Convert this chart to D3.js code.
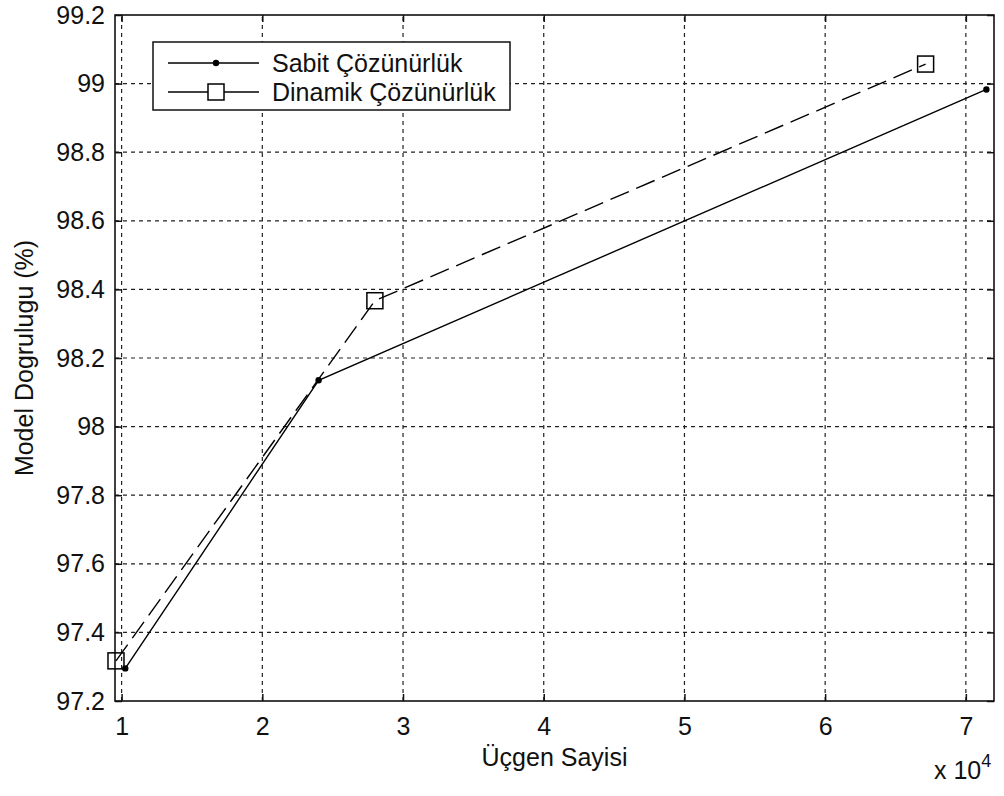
<!DOCTYPE html>
<html>
<head>
<meta charset="utf-8">
<script src="https://cdn.jsdelivr.net/npm/d3@7"></script>
<style>
  body { margin: 0; background: #fff; }
  text { font-family: "Liberation Sans", Arial, sans-serif; fill: #111; }
</style>
</head>
<body>
<div id="chart"></div>
<script>
// values (x in units of 10^4 triangles)
var sabitX = [1.026, 2.40, 7.146];
var sabitY = [97.295, 98.135, 98.983];
var dinamikX = [0.96, 2.80, 6.714];
var dinamikY = [97.317, 98.367, 99.057];
var xTicks = [1, 2, 3, 4, 5, 6, 7];
var yTicks = [97.2, 97.4, 97.6, 97.8, 98, 98.2, 98.4, 98.6, 98.8, 99, 99.2];
var seriesNames = ["Sabit Çözünürlük", "Dinamik Çözünürlük"];

var W = 1004, H = 796;
var margin = {top: 15, right: 10, bottom: 95, left: 115};

var svg = d3.select("#chart").append("svg")
    .attr("width", W)
    .attr("height", H);

var x = d3.scaleLinear().domain([0.953, 7.2]).range([margin.left, W - margin.right]);
var y = d3.scaleLinear().domain([97.2, 99.2]).range([H - margin.bottom, margin.top]);

var x0 = x.range()[0], x1 = x.range()[1];
var y0 = y.range()[0], y1 = y.range()[1];

// grid
var grid = svg.append("g").attr("class", "grid")
    .style("stroke", "#222").style("stroke-width", 1.2).style("stroke-dasharray", "4,4");
grid.selectAll("line.gx").data(xTicks).enter().append("line")
    .attr("x1", function(d) { return x(d); }).attr("x2", function(d) { return x(d); })
    .attr("y1", y0).attr("y2", y1);
grid.selectAll("line.gy").data(yTicks.slice(1, -1)).enter().append("line")
    .attr("y1", function(d) { return y(d); }).attr("y2", function(d) { return y(d); })
    .attr("x1", x0).attr("x2", x1);

// axes with inward ticks
var fmt = function(d) { return d3.format("")(+d.toFixed(1)); };
var xAxis = svg.append("g").attr("transform", "translate(0," + y0 + ")")
    .call(d3.axisBottom(x).tickValues(xTicks).tickSizeInner(-7).tickSizeOuter(0).tickPadding(16).tickFormat(d3.format("d")));
var yAxis = svg.append("g").attr("transform", "translate(" + x0 + ",0)")
    .call(d3.axisLeft(y).tickValues(yTicks).tickSizeInner(-7).tickSizeOuter(0).tickPadding(10).tickFormat(fmt));
svg.append("g").attr("transform", "translate(0," + y1 + ")")
    .call(d3.axisTop(x).tickValues(xTicks).tickSizeInner(-7).tickSizeOuter(0).tickFormat(""));
svg.append("g").attr("transform", "translate(" + x1 + ",0)")
    .call(d3.axisRight(y).tickValues(yTicks).tickSizeInner(-7).tickSizeOuter(0).tickFormat(""));
svg.selectAll(".domain").remove();
svg.selectAll(".tick line").attr("stroke", "#111").attr("stroke-width", 1.5);
svg.selectAll(".tick text").style("font-size", "25px").attr("fill", "#111")
    .style("font-family", "'Liberation Sans', Arial, sans-serif");

// box
svg.append("rect")
    .attr("x", x0).attr("y", y1).attr("width", x1 - x0).attr("height", y0 - y1)
    .attr("fill", "none").attr("stroke", "#111").attr("stroke-width", 1.6);

// series
var line = d3.line().x(function(d) { return x(d[0]); }).y(function(d) { return y(d[1]); });
var sabit = d3.zip(sabitX, sabitY);
var dinamik = d3.zip(dinamikX, dinamikY);

svg.append("path").datum(sabit).attr("d", line)
    .attr("fill", "none").attr("stroke", "#000").attr("stroke-width", 1.4);
svg.selectAll("circle.sabit").data(sabit).enter().append("circle")
    .attr("cx", function(d) { return x(d[0]); }).attr("cy", function(d) { return y(d[1]); })
    .attr("r", 3.2).attr("fill", "#000");

svg.append("path").datum(dinamik).attr("d", line)
    .attr("fill", "none").attr("stroke", "#000").attr("stroke-width", 1.4)
    .attr("stroke-dasharray", "20,8");
svg.selectAll("rect.dinamik").data(dinamik).enter().append("rect")
    .attr("x", function(d) { return x(d[0]) - 8; }).attr("y", function(d) { return y(d[1]) - 8; })
    .attr("width", 16).attr("height", 16)
    .attr("fill", "none").attr("stroke", "#000").attr("stroke-width", 1.5);

// legend
var lg = svg.append("g");
lg.append("rect").attr("x", 153).attr("y", 42).attr("width", 357).attr("height", 68)
    .attr("fill", "#fff").attr("stroke", "#111").attr("stroke-width", 1.5);
var rows = [63, 92];
lg.selectAll("line.l").data(rows).enter().append("line")
    .attr("x1", 168).attr("x2", 259)
    .attr("y1", function(d) { return d; }).attr("y2", function(d) { return d; })
    .attr("stroke", "#000").attr("stroke-width", 1.4);
lg.append("circle").attr("cx", 216).attr("cy", rows[0]).attr("r", 3.2).attr("fill", "#000");
lg.append("rect").attr("x", 208).attr("y", rows[1] - 8).attr("width", 16).attr("height", 16)
    .attr("fill", "#fff").attr("stroke", "#000").attr("stroke-width", 1.5);
lg.selectAll("text").data(seriesNames).enter().append("text")
    .attr("x", 272).attr("y", function(d, i) { return rows[i] + 9; })
    .style("font-size", "25px")
    .text(function(d) { return d; });

// axis labels
svg.append("text")
    .attr("x", (x0 + x1) / 2).attr("y", 766)
    .attr("text-anchor", "middle").style("font-size", "25px")
    .text("Üçgen Sayisi");
svg.append("text")
    .attr("transform", "translate(33," + (y0 + y1) / 2 + ") rotate(-90)")
    .attr("text-anchor", "middle").style("font-size", "25px")
    .text("Model Dogrulugu (%)");

// exponent
var ex = svg.append("text").attr("x", 934).attr("y", 779).style("font-size", "25px");
ex.append("tspan").text("x 10");
ex.append("tspan").attr("dy", -12).style("font-size", "18px").text("4");
</script>
</body>
</html>
